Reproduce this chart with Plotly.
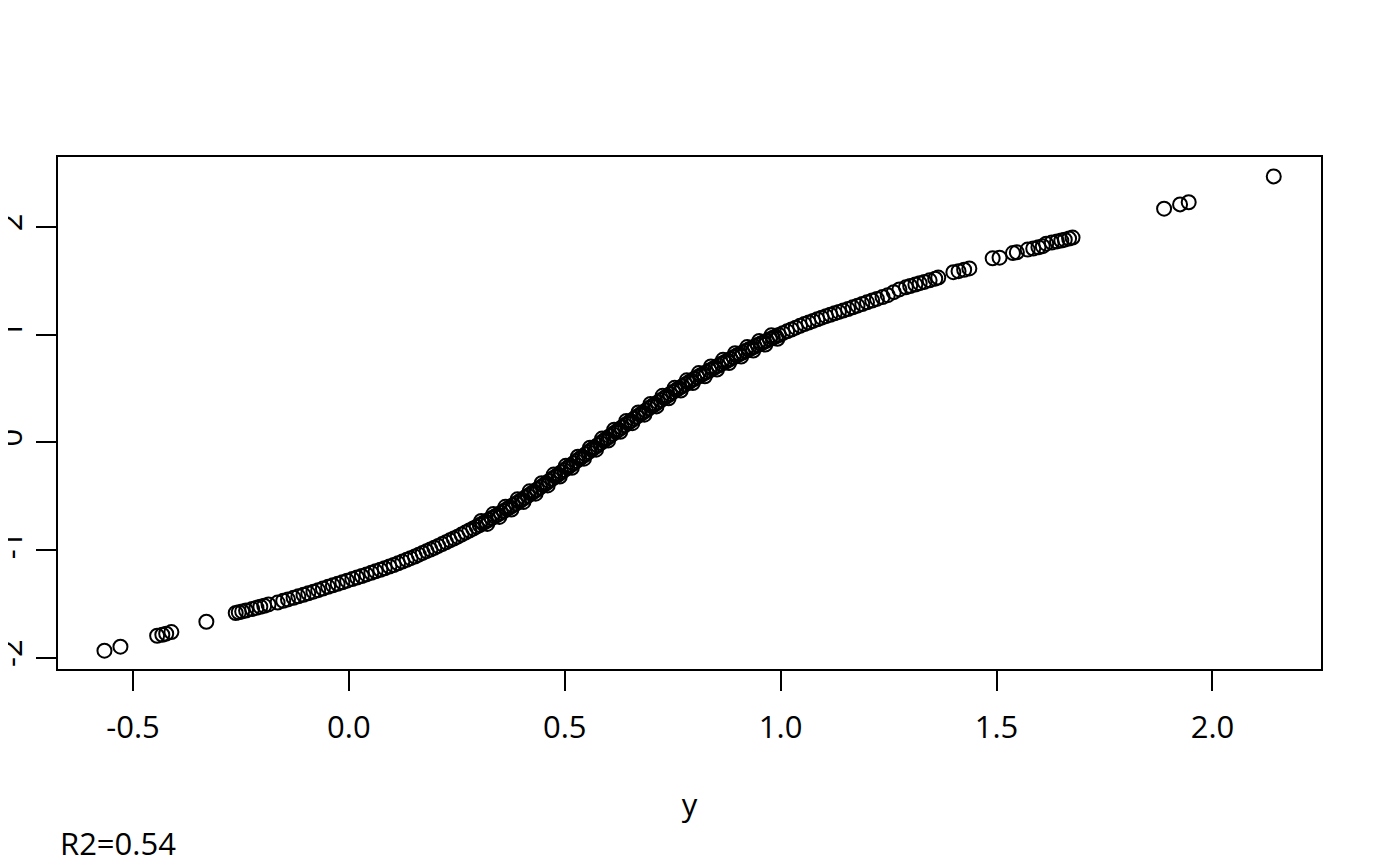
import plotly.graph_objects as go

y_obs = [-0.566, -0.529, -0.444, -0.432, -0.423, -0.411, -0.330,
         -0.262, -0.255, -0.247, -0.238, -0.224, -0.214, -0.205, -0.196, -0.186,
         -0.165, -0.152, -0.141, -0.128, -0.117, -0.105, -0.094, -0.082, -0.071, -0.060, -0.048, -0.037, -0.026, -0.015, -0.004,
         0.008, 0.019, 0.030, 0.041, 0.052, 0.062, 0.073, 0.083, 0.094, 0.104, 0.114, 0.124, 0.134, 0.143, 0.153, 0.162, 0.171, 0.180, 0.189, 0.198,
         0.207, 0.216, 0.225, 0.234, 0.243, 0.252, 0.261, 0.270, 0.279, 0.288, 0.296,
         0.303, 0.310, 0.317, 0.324, 0.331, 0.338, 0.345, 0.352, 0.359, 0.366, 0.373, 0.380, 0.387, 0.394,
         0.401, 0.408, 0.415, 0.422, 0.429, 0.436, 0.443, 0.450, 0.457, 0.464, 0.471, 0.478, 0.485, 0.492, 0.499,
         0.506, 0.513, 0.520, 0.527, 0.534, 0.541, 0.548, 0.555, 0.562, 0.569, 0.576, 0.583, 0.590, 0.597,
         0.604, 0.611, 0.618, 0.625, 0.632, 0.639, 0.646, 0.653, 0.660, 0.667, 0.674, 0.681, 0.688, 0.695,
         0.702, 0.709, 0.716, 0.723, 0.730, 0.737, 0.744, 0.751, 0.758, 0.765, 0.772, 0.779, 0.786, 0.793,
         0.800, 0.807, 0.814, 0.821, 0.828, 0.835, 0.842, 0.849, 0.856, 0.863, 0.870, 0.877, 0.884, 0.891, 0.898,
         0.905, 0.912, 0.919, 0.926, 0.933, 0.940, 0.947, 0.954, 0.961, 0.968, 0.975, 0.982, 0.989, 0.996,
         1.005, 1.015, 1.025, 1.035, 1.045, 1.055, 1.065, 1.075, 1.085, 1.095, 1.105, 1.115, 1.125, 1.135, 1.145,
         1.156, 1.167, 1.178, 1.189, 1.200, 1.212, 1.223, 1.236, 1.248,
         1.262, 1.275, 1.290, 1.300, 1.312, 1.322, 1.333, 1.345, 1.358, 1.365,
         1.400, 1.412, 1.425, 1.437,
         1.491, 1.507, 1.538, 1.547,
         1.572, 1.585, 1.597, 1.607,
         1.615, 1.628, 1.640, 1.650, 1.658, 1.668, 1.676,
         1.888, 1.925, 1.945, 2.142]

fitted = [-1.935, -1.898, -1.796, -1.787, -1.777, -1.762, -1.666,
          -1.585, -1.578, -1.570, -1.562, -1.548, -1.536, -1.527, -1.518, -1.505,
          -1.488, -1.472, -1.459, -1.444, -1.430, -1.416, -1.402, -1.387, -1.373, -1.358, -1.342, -1.328, -1.314, -1.300, -1.285,
          -1.270, -1.255, -1.241, -1.227, -1.212, -1.198, -1.183, -1.169, -1.153, -1.139, -1.123, -1.107, -1.091, -1.076, -1.060, -1.043, -1.027, -1.011, -0.995, -0.979,
          -0.962, -0.945, -0.928, -0.910, -0.893, -0.876, -0.857, -0.838, -0.819, -0.800, -0.783,
          -0.768, -0.752, -0.736, -0.720, -0.704, -0.688, -0.672, -0.655, -0.638, -0.620, -0.603, -0.585, -0.568, -0.550,
          -0.532, -0.513, -0.495, -0.476, -0.457, -0.438, -0.419, -0.400, -0.380, -0.359, -0.339, -0.319, -0.299, -0.278, -0.258,
          -0.237, -0.216, -0.195, -0.174, -0.153, -0.132, -0.111, -0.090, -0.069, -0.048, -0.027, -0.006, 0.015, 0.036,
          0.057, 0.077, 0.097, 0.118, 0.138, 0.158, 0.178, 0.198, 0.218, 0.238, 0.257, 0.277, 0.296, 0.316,
          0.335, 0.354, 0.373, 0.392, 0.411, 0.430, 0.449, 0.468, 0.485, 0.503, 0.520, 0.538, 0.555, 0.573,
          0.590, 0.605, 0.621, 0.636, 0.652, 0.667, 0.682, 0.698, 0.713, 0.729, 0.744, 0.759, 0.775, 0.790, 0.806,
          0.820, 0.834, 0.848, 0.862, 0.876, 0.890, 0.904, 0.918, 0.931, 0.944, 0.958, 0.971, 0.984, 0.997,
          1.014, 1.031, 1.048, 1.065, 1.082, 1.098, 1.113, 1.128, 1.143, 1.158, 1.172, 1.185, 1.198, 1.211, 1.224,
          1.238, 1.254, 1.269, 1.285, 1.300, 1.317, 1.332, 1.350, 1.367,
          1.395, 1.420, 1.440, 1.452, 1.466, 1.478, 1.490, 1.505, 1.520, 1.530,
          1.580, 1.590, 1.603, 1.615,
          1.709, 1.715, 1.758, 1.765,
          1.790, 1.800, 1.812, 1.822,
          1.845, 1.856, 1.866, 1.874, 1.882, 1.892, 1.902,
          2.170, 2.210, 2.230, 2.470]

# the dense middle of the band, where the circles pile up on each other
y_obs_mid = [0.3065, 0.3205, 0.3345, 0.3485, 0.3625, 0.3765, 0.3905, 0.4045, 0.4185, 0.4325,
             0.4465, 0.4605, 0.4745, 0.4885, 0.5025, 0.5165, 0.5305, 0.5445, 0.5585, 0.5725,
             0.5865, 0.6005, 0.6145, 0.6285, 0.6425, 0.6565, 0.6705, 0.6845, 0.6985, 0.7125,
             0.7265, 0.7405, 0.7545, 0.7685, 0.7825, 0.7965, 0.8105, 0.8245, 0.8385, 0.8525,
             0.8665, 0.8805, 0.8945, 0.9085, 0.9225, 0.9365, 0.9505, 0.9645, 0.9785, 0.9925]

fitted_mid = [-0.730, -0.758, -0.666, -0.693, -0.599, -0.624, -0.529, -0.553, -0.455, -0.477,
              -0.379, -0.400, -0.299, -0.318, -0.218, -0.236, -0.134, -0.152, -0.050, -0.068,
              0.035, 0.016, 0.117, 0.098, 0.198, 0.178, 0.277, 0.257, 0.356, 0.334,
              0.432, 0.409, 0.506, 0.481, 0.576, 0.551, 0.643, 0.614, 0.705, 0.676,
              0.766, 0.737, 0.828, 0.797, 0.885, 0.853, 0.941, 0.908, 0.994, 0.961]

x_ticks = [-0.5, 0.0, 0.5, 1.0, 1.5, 2.0]
x_tick_labels = ['-0.5', '0.0', '0.5', '1.0', '1.5', '2.0']
y_ticks = [-2, -1, 0, 1, 2]
y_tick_labels = ['-2', '-1', '0', '1', '2']
r2_label = 'R2=0.54'

font_dict = dict(family='Open Sans', size=31, color='black')

fig = go.Figure()
fig.add_trace(go.Scatter(x=y_obs + y_obs_mid, y=fitted + fitted_mid, mode='markers',
                         marker=dict(symbol='circle-open', size=14, color='black', line=dict(width=2, color='black')),
                         showlegend=False, hoverinfo='skip'))

# the page puts the figure 8px in from the top-left corner, so the margins make up for it
fig.update_layout(
    template='simple_white',
    width=1400, height=866,
    margin=dict(l=50, r=87, t=149, b=205),
    plot_bgcolor='white',
    paper_bgcolor='white',
    font=font_dict,
    xaxis=dict(
        range=[-0.6736, 2.2514],
        tickvals=x_ticks, ticktext=x_tick_labels,
        ticks='outside', ticklen=20, tickwidth=1.5, tickcolor='black',
        showline=True, linecolor='black', linewidth=1.5, mirror=True,
        showgrid=False, zeroline=False, automargin=False,
        ticklabelstandoff=10,
        title=dict(text='y', standoff=48, font=font_dict),
    ),
    yaxis=dict(
        range=[-2.105, 2.650],
        tickvals=y_ticks, ticktext=y_tick_labels, tickangle=-90,
        ticks='outside', ticklen=20, tickwidth=1.5, tickcolor='black',
        showline=True, linecolor='black', linewidth=1.5, mirror=True,
        showgrid=False, zeroline=False, automargin=False,
        ticklabelstandoff=2,
    ),
)

fig.add_annotation(text=r2_label, xref='paper', yref='paper', x=0.0, y=-0.339,
                   xanchor='left', yanchor='middle', showarrow=False, font=font_dict)

fig.write_html("out.html")
